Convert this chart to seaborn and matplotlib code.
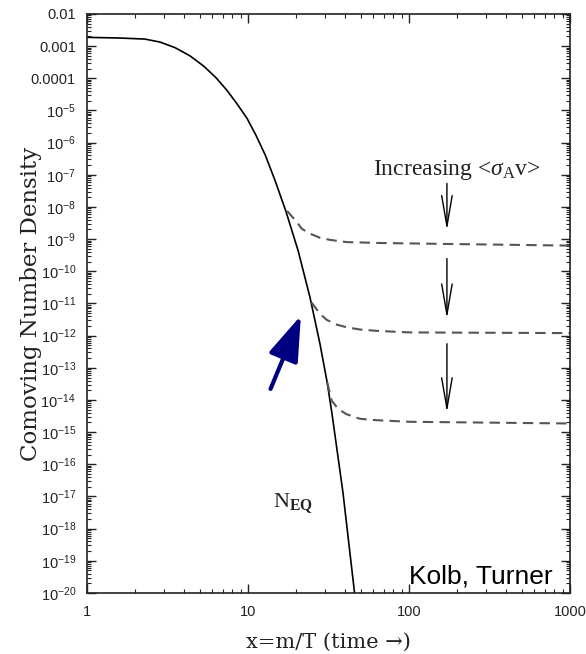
import numpy as np
import pandas as pd
import matplotlib
matplotlib.use('Agg')
import matplotlib.pyplot as plt
from matplotlib.ticker import LogLocator, FixedLocator, FixedFormatter, NullFormatter
import seaborn as sns

# krzywa rownowagowa N_EQ (odczyt z wykresu)
x_eq = [1.0, 1.6, 2.29, 2.84, 3.52, 4.36, 5.33, 6.33, 7.41, 8.55, 9.86, 11.2, 12.8, 14.7,
        17.2, 20.5, 24.3, 28.0, 31.0, 33.2, 38.9, 45.9]
y_eq = [1.88e-3, 1.79e-3, 1.66e-3, 1.34e-3, 9.0e-4, 5.0e-4, 2.35e-4, 1.04e-4, 4.2e-5, 1.6e-5,
        5.7e-6, 1.7e-6, 4.1e-7, 6.8e-8, 7.3e-9, 4.3e-10, 1.5e-11, 5.5e-13, 3.6e-14, 3.9e-15,
        1.3e-17, 1.0e-20]

# zamrozenie dla trzech wartosci <sigma_A v>
x_f1 = [17.5, 20.1, 21.6, 24.3, 28.0, 32.3, 41, 66, 170, 1000]
y_f1 = [7.5e-9, 3.4e-9, 2.1e-9, 1.48e-9, 1.10e-9, 9.5e-10, 8.1e-10, 7.6e-10, 7.1e-10, 6.3e-10]
x_f2 = [24.8, 28.0, 30.8, 35.6, 41, 49.6, 63, 101, 1000]
y_f2 = [1.07e-11, 4.8e-12, 3.1e-12, 2.2e-12, 1.82e-12, 1.55e-12, 1.41e-12, 1.26e-12, 1.2e-12]
x_f3 = [31.0, 33.1, 36.4, 41, 49.6, 63, 101, 1000]
y_f3 = [3.6e-14, 9.5e-15, 5.2e-15, 3.6e-15, 2.6e-15, 2.35e-15, 2.1e-15, 1.86e-15]

# strzalki "Increasing <sigma_A v>"
arrow_x = 172
arrow_top = [5.4e-8, 2.5e-10, 5.6e-13]
arrow_tip = [1.9e-9, 3.4e-12, 4.1e-15]

# niebieska strzalka
blue_from = (13.8, 2.2e-14)
blue_to = (21.3, 4.2e-12)

y_ticks = [10.0 ** k for k in range(-20, -1)]
y_labels = [r'$\mathdefault{10^{%d}}$' % k for k in range(-20, -4)] + ['0.0001', '0.001', '0.01']
x_ticks = [1, 10, 100, 1000]
x_labels = ['1', '10', '100', '1000']

sns.set_theme(style='ticks')
plt.rcParams['font.family'] = ['Liberation Sans', 'DejaVu Sans']
plt.rcParams['mathtext.fontset'] = 'custom'
plt.rcParams['mathtext.rm'] = 'Liberation Serif'
plt.rcParams['mathtext.it'] = 'Liberation Serif:italic'
plt.rcParams['mathtext.bf'] = 'Liberation Serif:bold'

fig = plt.figure(figsize=(5.86, 6.54), dpi=100)
ax = fig.add_axes([0.1485, 0.0933, 0.8242, 0.8853])

sns.lineplot(x=x_eq, y=y_eq, ax=ax, color='black', lw=1.2, sort=False, estimator=None)
for xs, ys in [(x_f1, y_f1), (x_f2, y_f2), (x_f3, y_f3)]:
    sns.lineplot(x=xs, y=ys, ax=ax, color='#555555', lw=1.5, linestyle=(0, (5, 3)),
                 sort=False, estimator=None)

ax.set_xscale('log')
ax.set_yscale('log')
ax.set_xlim(1, 1000)
ax.set_ylim(1e-20, 1e-2)

ax.yaxis.set_major_locator(FixedLocator(y_ticks))
ax.yaxis.set_major_formatter(FixedFormatter(y_labels))
ax.yaxis.set_minor_locator(LogLocator(base=10, subs=np.arange(2, 10), numticks=200))
ax.yaxis.set_minor_formatter(NullFormatter())
ax.xaxis.set_major_locator(FixedLocator(x_ticks))
ax.xaxis.set_major_formatter(FixedFormatter(x_labels))
ax.xaxis.set_minor_locator(LogLocator(base=10, subs=np.arange(2, 10), numticks=50))
ax.xaxis.set_minor_formatter(NullFormatter())

ax.tick_params(which='both', direction='in', top=True, right=True, colors='#222222')
ax.tick_params(which='major', length=6.5, width=1.0, labelsize=10.5, pad=9)
ax.tick_params(axis='y', which='major', pad=8)
ax.tick_params(which='minor', length=3.2, width=0.8)
for s in ax.spines.values():
    s.set_linewidth(1.2)
    s.set_color('#222222')

ax.set_xlabel('x=m/T (time →)', family=['DejaVu Serif'], fontsize=15, color='#222222')
ax.set_ylabel('Comoving Number Density', family=['DejaVu Serif'], fontsize=16.5, color='#222222')
ax.xaxis.set_label_coords(0.5, -0.068)
ax.yaxis.set_label_coords(-0.094, 0.5)

for top, tip in zip(arrow_top, arrow_tip):
    ax.annotate('', xy=(arrow_x, tip), xytext=(arrow_x, top),
                arrowprops=dict(arrowstyle='->,head_length=2.2,head_width=0.38', mutation_scale=10,
                                lw=1.0, color='black', shrinkA=0, shrinkB=0))

ax.annotate('', xy=blue_to, xytext=blue_from,
            arrowprops=dict(arrowstyle='-|>,head_length=2.8,head_width=0.95', mutation_scale=10,
                            lw=3, color='#000080', shrinkA=0, shrinkB=0))

ax.text(198.7, 1.0e-7, r'Increasing <$\sigma_{\mathrm{A}}$v>', family=['Liberation Serif'],
        fontsize=17, ha='center', va='baseline', color='#222222')
ax.text(14.3, 4.4e-18, r'N$_{\mathbf{EQ}}$', family=['Liberation Serif'],
        fontsize=16, ha='left', va='baseline', color='#222222')
ax.text(100, 2.0e-20, 'Kolb, Turner', fontsize=19, ha='left', va='baseline', color='black')

fig.savefig('out.png', dpi=100)
